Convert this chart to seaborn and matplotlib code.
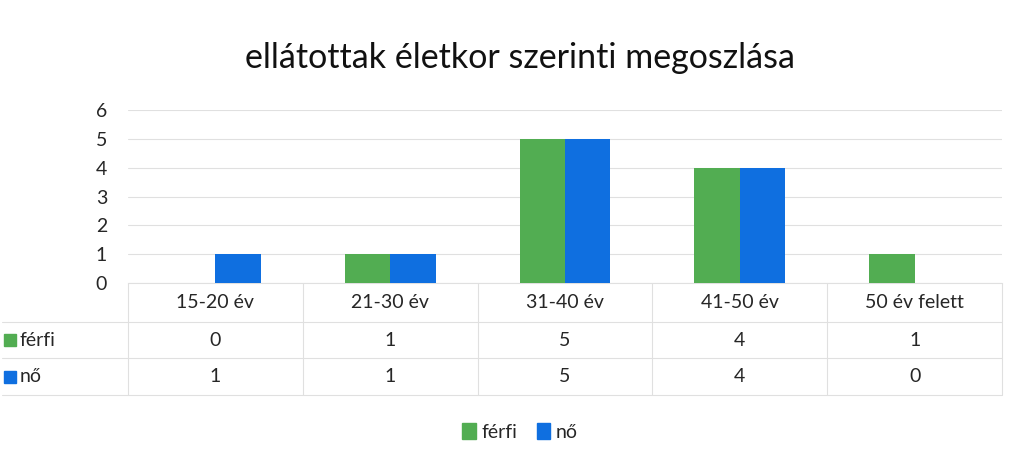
import matplotlib
matplotlib.use("Agg")
import matplotlib.pyplot as plt
import seaborn as sns
import pandas as pd
from matplotlib.patches import Rectangle
from matplotlib.lines import Line2D

categories = ["15-20 év", "21-30 év", "31-40 év", "41-50 év", "50 év felett"]
ferfi = [0, 1, 5, 4, 1]
no = [1, 1, 5, 4, 0]
series_names = ["férfi", "nő"]
colors = ["#52ad52", "#0f6fe0"]
title = "ellátottak életkor szerinti megoszlása"

sns.set_style("white")
plt.rcParams["font.family"] = ["Lato", "DejaVu Sans"]

df = pd.DataFrame({
    "cat": categories * 2,
    "val": ferfi + no,
    "ser": [series_names[0]] * len(categories) + [series_names[1]] * len(categories),
})

W, H = 1017, 463
fig = plt.figure(figsize=(W / 100, H / 100), dpi=100)
ax_l, ax_r, ax_t, ax_b = 128, 1002, 110, 283
ax = fig.add_axes([ax_l / W, 1 - ax_b / H, (ax_r - ax_l) / W, (ax_b - ax_t) / H])

sns.barplot(data=df, x="cat", y="val", hue="ser", palette=colors, ax=ax,
            width=0.52, gap=0, saturation=1, legend=False, zorder=3,
            linewidth=0, edgecolor="none")

ax.set_ylim(0, 6)
ax.set_xlim(-0.5, len(categories) - 0.5)
ax.set_yticks(range(0, 7))
ax.tick_params(axis="y", labelsize=14, length=0, pad=15)
ax.set_yticklabels([str(i) for i in range(7)], ha="right")
ax.set_xticks([])
ax.set_xlabel("")
ax.set_ylabel("")
ax.grid(axis="y", color="#e0e0e0", linewidth=0.8, zorder=0)
for s in ["top", "right", "left"]:
    ax.spines[s].set_visible(False)
ax.spines["bottom"].set_color("#e0e0e0")

fig.text(520 / W, 1 - 58 / H, title, ha="center", va="center", fontsize=24.5, color="#111111")

# data table
def ay(px):
    return (ax_b - px) / (ax_b - ax_t)

trans_x = ax.get_xaxis_transform()
line_kw = dict(color="#e0e0e0", linewidth=0.8, clip_on=False)
unit = (ax_r - ax_l) / len(categories)
left_x = -0.5 - (ax_l - 2) / unit
for ypx in [322, 358, 395]:
    ax.add_line(Line2D([left_x, len(categories) - 0.5], [ay(ypx)] * 2, transform=trans_x, **line_kw))
for i in range(len(categories) + 1):
    ax.add_line(Line2D([i - 0.5] * 2, [0, ay(395)], transform=trans_x, **line_kw))

fs = 14
for i, c in enumerate(categories):
    ax.text(i, ay(303), c, transform=trans_x, ha="center", va="center", fontsize=fs)
    ax.text(i, ay(340), str(ferfi[i]), transform=trans_x, ha="center", va="center", fontsize=fs)
    ax.text(i, ay(377), str(no[i]), transform=trans_x, ha="center", va="center", fontsize=fs)

for name, col, ypx in [(series_names[0], colors[0], 340), (series_names[1], colors[1], 377)]:
    fig.patches.append(Rectangle((4 / W, 1 - (ypx + 6) / H), 12 / W, 12 / H,
                                 transform=fig.transFigure, color=col, figure=fig))
    fig.text(20 / W, 1 - ypx / H, name, ha="left", va="center", fontsize=fs)

handles = [Rectangle((0, 0), 1, 1, color=c) for c in colors]
fig.legend(handles, series_names, loc="center", bbox_to_anchor=(520 / W, 1 - 432 / H),
           ncol=2, frameon=False, fontsize=fs, handlelength=0.7, handleheight=0.9,
           handletextpad=0.3, columnspacing=1.0)

fig.savefig("out.png", dpi=100)
